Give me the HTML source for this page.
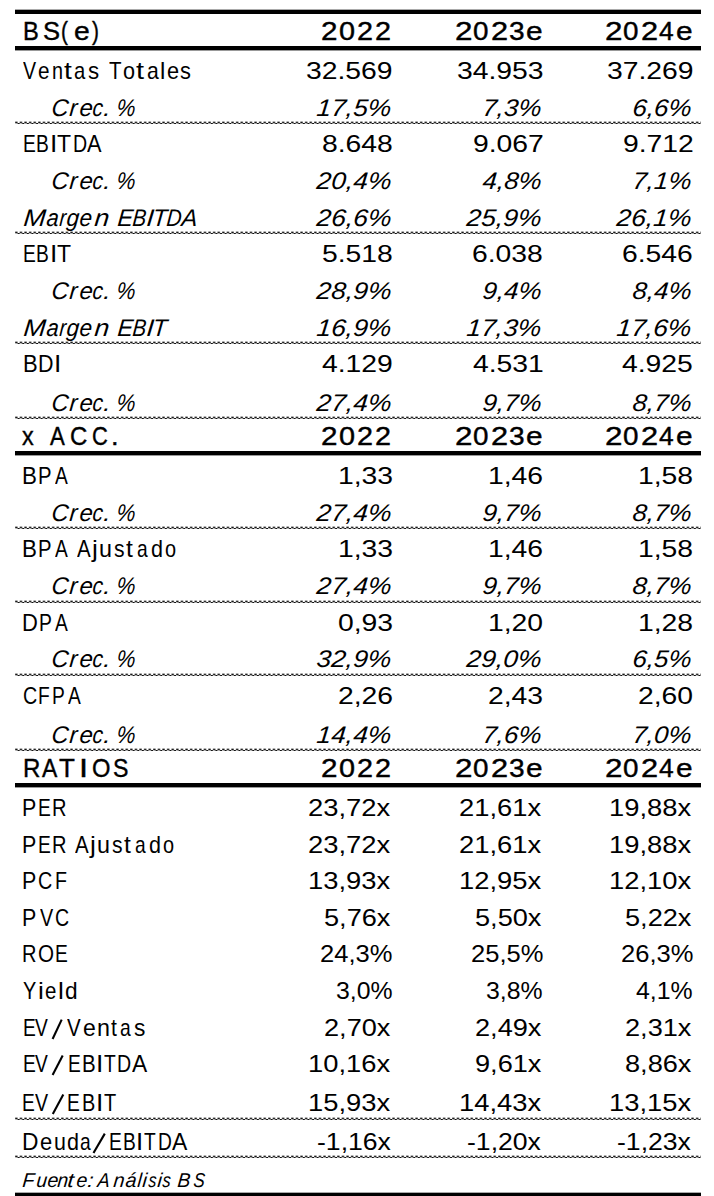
<!DOCTYPE html><html><head><meta charset="utf-8"><style>
html,body{margin:0;padding:0;background:#fff;}
body{width:714px;height:1196px;position:relative;overflow:hidden;font-family:"Liberation Sans",sans-serif;color:#000;font-kerning:none;}
.t{position:absolute;white-space:nowrap;line-height:30px;transform-origin:0 0;}
.l{position:absolute;left:15px;width:686px;}
.thick{height:5px;background:linear-gradient(#000,#000) 0 0/100% 4px no-repeat,#999;}
.thicku{height:5px;background:linear-gradient(#000,#000) 0 1px/100% 4px no-repeat,#aaa;}
</style></head><body>

<svg width="0" height="0" style="position:absolute"><defs><pattern id="dp" width="4.6" height="3" patternUnits="userSpaceOnUse"><rect x="0.2" y="0" width="2.3" height="1" fill="#000" fill-opacity="0.35"/><rect x="0.2" y="1" width="2.3" height="1" fill="#111"/><rect x="2.5" y="2" width="2.3" height="1" fill="#111"/><rect x="0.2" y="2" width="2.3" height="1" fill="#000" fill-opacity="0.3"/></pattern></defs></svg>
<div class="l thicku" style="top:9px"></div>
<div class="l thick" style="top:46px"></div>
<svg class="l" style="top:121px" width="686" height="3"><rect width="686" height="3" fill="url(#dp)"/></svg>
<svg class="l" style="top:231px" width="686" height="3"><rect width="686" height="3" fill="url(#dp)"/></svg>
<svg class="l" style="top:341px" width="686" height="3"><rect width="686" height="3" fill="url(#dp)"/></svg>
<svg class="l" style="top:416px" width="686" height="3"><rect width="686" height="3" fill="url(#dp)"/></svg>
<div class="l thick" style="top:451px"></div>
<svg class="l" style="top:526px" width="686" height="3"><rect width="686" height="3" fill="url(#dp)"/></svg>
<svg class="l" style="top:600px" width="686" height="3"><rect width="686" height="3" fill="url(#dp)"/></svg>
<svg class="l" style="top:673px" width="686" height="3"><rect width="686" height="3" fill="url(#dp)"/></svg>
<svg class="l" style="top:748px" width="686" height="3"><rect width="686" height="3" fill="url(#dp)"/></svg>
<div class="l thick" style="top:783px"></div>
<svg class="l" style="top:1117px" width="686" height="3"><rect width="686" height="3" fill="url(#dp)"/></svg>
<svg class="l" style="top:1155px" width="686" height="3"><rect width="686" height="3" fill="url(#dp)"/></svg>
<div class="l thicku" style="top:1192px"></div>
<div class="t" style="left:22.56px;top:15.99px;font-size:26px;transform:scaleX(0.9105);-webkit-text-stroke:0.40px #000;">B</div>
<div class="t" style="left:42.94px;top:15.99px;font-size:26px;transform:scaleX(0.9821);-webkit-text-stroke:0.40px #000;">S</div>
<div class="t" style="left:60.70px;top:15.99px;font-size:26px;transform:scaleX(0.8000);-webkit-text-stroke:0.40px #000;">(</div>
<div class="t" style="left:73.70px;top:15.99px;font-size:26px;transform:scaleX(1.0901);-webkit-text-stroke:0.40px #000;">e</div>
<div class="t" style="left:91.97px;top:15.99px;font-size:26px;transform:scaleX(0.8000);-webkit-text-stroke:0.40px #000;">)</div>
<div class="t" style="left:320.81px;top:15.99px;font-size:26px;transform:scaleX(1.1397);-webkit-text-stroke:0.40px #000;">2</div>
<div class="t" style="left:339.17px;top:15.99px;font-size:26px;transform:scaleX(1.1103);-webkit-text-stroke:0.40px #000;">0</div>
<div class="t" style="left:357.15px;top:15.99px;font-size:26px;transform:scaleX(1.1060);-webkit-text-stroke:0.40px #000;">2</div>
<div class="t" style="left:375.45px;top:15.99px;font-size:26px;transform:scaleX(1.1060);-webkit-text-stroke:0.40px #000;">2</div>
<div class="t" style="left:454.62px;top:15.99px;font-size:26px;transform:scaleX(1.2073);-webkit-text-stroke:0.40px #000;">2</div>
<div class="t" style="left:472.91px;top:15.99px;font-size:26px;transform:scaleX(1.0701);-webkit-text-stroke:0.40px #000;">0</div>
<div class="t" style="left:490.65px;top:15.99px;font-size:26px;transform:scaleX(1.1820);-webkit-text-stroke:0.40px #000;">2</div>
<div class="t" style="left:508.63px;top:15.99px;font-size:26px;transform:scaleX(1.0789);-webkit-text-stroke:0.40px #000;">3</div>
<div class="t" style="left:525.93px;top:15.99px;font-size:26px;transform:scaleX(1.1475);-webkit-text-stroke:0.40px #000;">e</div>
<div class="t" style="left:604.72px;top:15.99px;font-size:26px;transform:scaleX(1.2073);-webkit-text-stroke:0.40px #000;">2</div>
<div class="t" style="left:623.01px;top:15.99px;font-size:26px;transform:scaleX(1.0701);-webkit-text-stroke:0.40px #000;">0</div>
<div class="t" style="left:640.75px;top:15.99px;font-size:26px;transform:scaleX(1.1820);-webkit-text-stroke:0.40px #000;">2</div>
<div class="t" style="left:659.19px;top:15.99px;font-size:26px;transform:scaleX(1.0151);-webkit-text-stroke:0.40px #000;">4</div>
<div class="t" style="left:676.03px;top:15.99px;font-size:26px;transform:scaleX(1.1475);-webkit-text-stroke:0.40px #000;">e</div>
<div class="t" style="left:22.81px;top:55.68px;font-size:24px;transform:scaleX(0.8166);">V</div>
<div class="t" style="left:38.42px;top:55.68px;font-size:24px;transform:scaleX(0.8613);">e</div>
<div class="t" style="left:51.89px;top:55.68px;font-size:24px;transform:scaleX(0.8239);">n</div>
<div class="t" style="left:64.07px;top:55.68px;font-size:24px;transform:scaleX(1.1748);">t</div>
<div class="t" style="left:74.34px;top:55.68px;font-size:24px;transform:scaleX(0.8436);">a</div>
<div class="t" style="left:88.48px;top:55.68px;font-size:24px;transform:scaleX(0.9269);">s</div>
<div class="t" style="left:109.14px;top:55.68px;font-size:24px;transform:scaleX(0.8548);">T</div>
<div class="t" style="left:122.69px;top:55.68px;font-size:24px;transform:scaleX(0.9001);">o</div>
<div class="t" style="left:136.46px;top:55.68px;font-size:24px;transform:scaleX(1.2074);">t</div>
<div class="t" style="left:146.50px;top:55.68px;font-size:24px;transform:scaleX(0.8842);">a</div>
<div class="t" style="left:159.99px;top:55.68px;font-size:24px;transform:scaleX(0.9956);">l</div>
<div class="t" style="left:166.78px;top:55.68px;font-size:24px;transform:scaleX(0.9057);">e</div>
<div class="t" style="left:180.39px;top:55.68px;font-size:24px;transform:scaleX(0.9078);">s</div>
<div class="t" style="left:306.22px;top:55.68px;font-size:24px;transform:scaleX(1.1800);">32.569</div>
<div class="t" style="left:456.63px;top:55.68px;font-size:24px;transform:scaleX(1.1800);">34.953</div>
<div class="t" style="left:606.72px;top:55.68px;font-size:24px;transform:scaleX(1.1800);">37.269</div>
<div class="t" style="left:50.81px;top:92.68px;font-size:24px;font-style:italic;transform-origin:0 23.32px;transform:skewX(-5.0deg) scaleX(0.9791);">C</div>
<div class="t" style="left:69.22px;top:92.68px;font-size:24px;font-style:italic;transform-origin:0 23.32px;transform:skewX(-5.0deg) scaleX(0.9640);">r</div>
<div class="t" style="left:78.60px;top:92.68px;font-size:24px;font-style:italic;transform-origin:0 23.32px;transform:skewX(-5.0deg) scaleX(0.9958);">e</div>
<div class="t" style="left:92.03px;top:92.68px;font-size:24px;font-style:italic;transform-origin:0 23.32px;transform:skewX(-5.0deg) scaleX(0.8680);">c</div>
<div class="t" style="left:102.59px;top:92.68px;font-size:24px;font-style:italic;transform-origin:0 23.32px;transform:skewX(-5.0deg) scaleX(1.1000);">.</div>
<div class="t" style="left:116.39px;top:92.68px;font-size:24px;font-style:italic;transform-origin:0 23.32px;transform:skewX(-5.0deg) scaleX(0.8872);">%</div>
<div class="t" style="left:315.67px;top:92.68px;font-size:24px;font-style:italic;transform-origin:0 23.32px;transform:skewX(-5.0deg) scaleX(1.0987);">17,5%</div>
<div class="t" style="left:482.14px;top:92.68px;font-size:24px;font-style:italic;transform-origin:0 23.32px;transform:skewX(-5.0deg) scaleX(1.0745);">7,3%</div>
<div class="t" style="left:632.01px;top:92.68px;font-size:24px;font-style:italic;transform-origin:0 23.32px;transform:skewX(-5.0deg) scaleX(1.0768);">6,6%</div>
<div class="t" style="left:22.57px;top:128.68px;font-size:24px;transform:scaleX(0.8000);">E</div>
<div class="t" style="left:35.82px;top:128.68px;font-size:24px;transform:scaleX(0.8000);">B</div>
<div class="t" style="left:50.38px;top:128.68px;font-size:24px;transform:scaleX(1.1000);">I</div>
<div class="t" style="left:57.18px;top:128.68px;font-size:24px;transform:scaleX(0.9580);">T</div>
<div class="t" style="left:72.89px;top:128.68px;font-size:24px;transform:scaleX(0.8160);">D</div>
<div class="t" style="left:87.06px;top:128.68px;font-size:24px;transform:scaleX(0.9049);">A</div>
<div class="t" style="left:321.86px;top:128.68px;font-size:24px;transform:scaleX(1.1800);">8.648</div>
<div class="t" style="left:472.56px;top:128.68px;font-size:24px;transform:scaleX(1.1800);">9.067</div>
<div class="t" style="left:622.56px;top:128.68px;font-size:24px;transform:scaleX(1.1800);">9.712</div>
<div class="t" style="left:50.81px;top:165.68px;font-size:24px;font-style:italic;transform-origin:0 23.32px;transform:skewX(-5.0deg) scaleX(0.9791);">C</div>
<div class="t" style="left:69.22px;top:165.68px;font-size:24px;font-style:italic;transform-origin:0 23.32px;transform:skewX(-5.0deg) scaleX(0.9640);">r</div>
<div class="t" style="left:78.60px;top:165.68px;font-size:24px;font-style:italic;transform-origin:0 23.32px;transform:skewX(-5.0deg) scaleX(0.9958);">e</div>
<div class="t" style="left:92.03px;top:165.68px;font-size:24px;font-style:italic;transform-origin:0 23.32px;transform:skewX(-5.0deg) scaleX(0.8680);">c</div>
<div class="t" style="left:102.59px;top:165.68px;font-size:24px;font-style:italic;transform-origin:0 23.32px;transform:skewX(-5.0deg) scaleX(1.1000);">.</div>
<div class="t" style="left:116.39px;top:165.68px;font-size:24px;font-style:italic;transform-origin:0 23.32px;transform:skewX(-5.0deg) scaleX(0.8872);">%</div>
<div class="t" style="left:315.61px;top:165.68px;font-size:24px;font-style:italic;transform-origin:0 23.32px;transform:skewX(-5.0deg) scaleX(1.0996);">20,4%</div>
<div class="t" style="left:481.89px;top:165.68px;font-size:24px;font-style:italic;transform-origin:0 23.32px;transform:skewX(-5.0deg) scaleX(1.0791);">4,8%</div>
<div class="t" style="left:632.14px;top:165.68px;font-size:24px;font-style:italic;transform-origin:0 23.32px;transform:skewX(-5.0deg) scaleX(1.0745);">7,1%</div>
<div class="t" style="left:23.29px;top:202.68px;font-size:24px;font-style:italic;transform-origin:0 23.32px;transform:skewX(-5.0deg) scaleX(1.1115);">M</div>
<div class="t" style="left:46.02px;top:202.68px;font-size:24px;font-style:italic;transform-origin:0 23.32px;transform:skewX(-5.0deg) scaleX(0.9092);">a</div>
<div class="t" style="left:59.13px;top:202.68px;font-size:24px;font-style:italic;transform-origin:0 23.32px;transform:skewX(-5.0deg) scaleX(0.8000);">r</div>
<div class="t" style="left:66.06px;top:202.68px;font-size:24px;font-style:italic;transform-origin:0 23.32px;transform:skewX(-5.0deg) scaleX(0.9397);">g</div>
<div class="t" style="left:79.35px;top:202.68px;font-size:24px;font-style:italic;transform-origin:0 23.32px;transform:skewX(-5.0deg) scaleX(0.9357);">e</div>
<div class="t" style="left:93.67px;top:202.68px;font-size:24px;font-style:italic;transform-origin:0 23.32px;transform:skewX(-5.0deg) scaleX(1.1046);">n</div>
<div class="t" style="left:116.59px;top:202.68px;font-size:24px;font-style:italic;transform-origin:0 23.32px;transform:skewX(-5.0deg) scaleX(0.9747);">E</div>
<div class="t" style="left:132.08px;top:202.68px;font-size:24px;font-style:italic;transform-origin:0 23.32px;transform:skewX(-5.0deg) scaleX(0.8513);">B</div>
<div class="t" style="left:146.37px;top:202.68px;font-size:24px;font-style:italic;transform-origin:0 23.32px;transform:skewX(-5.0deg) scaleX(1.1000);">I</div>
<div class="t" style="left:151.59px;top:202.68px;font-size:24px;font-style:italic;transform-origin:0 23.32px;transform:skewX(-5.0deg) scaleX(0.9841);">T</div>
<div class="t" style="left:165.67px;top:202.68px;font-size:24px;font-style:italic;transform-origin:0 23.32px;transform:skewX(-5.0deg) scaleX(0.8660);">D</div>
<div class="t" style="left:180.78px;top:202.68px;font-size:24px;font-style:italic;transform-origin:0 23.32px;transform:skewX(-5.0deg) scaleX(0.9936);">A</div>
<div class="t" style="left:315.61px;top:202.68px;font-size:24px;font-style:italic;transform-origin:0 23.32px;transform:skewX(-5.0deg) scaleX(1.0996);">26,6%</div>
<div class="t" style="left:466.11px;top:202.68px;font-size:24px;font-style:italic;transform-origin:0 23.32px;transform:skewX(-5.0deg) scaleX(1.0996);">25,9%</div>
<div class="t" style="left:616.11px;top:202.68px;font-size:24px;font-style:italic;transform-origin:0 23.32px;transform:skewX(-5.0deg) scaleX(1.0996);">26,1%</div>
<div class="t" style="left:22.57px;top:238.68px;font-size:24px;transform:scaleX(0.8000);">E</div>
<div class="t" style="left:35.82px;top:238.68px;font-size:24px;transform:scaleX(0.8000);">B</div>
<div class="t" style="left:50.38px;top:238.68px;font-size:24px;transform:scaleX(1.1000);">I</div>
<div class="t" style="left:57.18px;top:238.68px;font-size:24px;transform:scaleX(0.9580);">T</div>
<div class="t" style="left:321.86px;top:238.68px;font-size:24px;transform:scaleX(1.1800);">5.518</div>
<div class="t" style="left:472.36px;top:238.68px;font-size:24px;transform:scaleX(1.1800);">6.038</div>
<div class="t" style="left:622.38px;top:238.68px;font-size:24px;transform:scaleX(1.1800);">6.546</div>
<div class="t" style="left:50.81px;top:275.68px;font-size:24px;font-style:italic;transform-origin:0 23.32px;transform:skewX(-5.0deg) scaleX(0.9791);">C</div>
<div class="t" style="left:69.22px;top:275.68px;font-size:24px;font-style:italic;transform-origin:0 23.32px;transform:skewX(-5.0deg) scaleX(0.9640);">r</div>
<div class="t" style="left:78.60px;top:275.68px;font-size:24px;font-style:italic;transform-origin:0 23.32px;transform:skewX(-5.0deg) scaleX(0.9958);">e</div>
<div class="t" style="left:92.03px;top:275.68px;font-size:24px;font-style:italic;transform-origin:0 23.32px;transform:skewX(-5.0deg) scaleX(0.8680);">c</div>
<div class="t" style="left:102.59px;top:275.68px;font-size:24px;font-style:italic;transform-origin:0 23.32px;transform:skewX(-5.0deg) scaleX(1.1000);">.</div>
<div class="t" style="left:116.39px;top:275.68px;font-size:24px;font-style:italic;transform-origin:0 23.32px;transform:skewX(-5.0deg) scaleX(0.8872);">%</div>
<div class="t" style="left:315.61px;top:275.68px;font-size:24px;font-style:italic;transform-origin:0 23.32px;transform:skewX(-5.0deg) scaleX(1.0996);">28,9%</div>
<div class="t" style="left:481.96px;top:275.68px;font-size:24px;font-style:italic;transform-origin:0 23.32px;transform:skewX(-5.0deg) scaleX(1.0778);">9,4%</div>
<div class="t" style="left:631.94px;top:275.68px;font-size:24px;font-style:italic;transform-origin:0 23.32px;transform:skewX(-5.0deg) scaleX(1.0782);">8,4%</div>
<div class="t" style="left:23.29px;top:312.68px;font-size:24px;font-style:italic;transform-origin:0 23.32px;transform:skewX(-5.0deg) scaleX(1.1115);">M</div>
<div class="t" style="left:46.02px;top:312.68px;font-size:24px;font-style:italic;transform-origin:0 23.32px;transform:skewX(-5.0deg) scaleX(0.9092);">a</div>
<div class="t" style="left:59.13px;top:312.68px;font-size:24px;font-style:italic;transform-origin:0 23.32px;transform:skewX(-5.0deg) scaleX(0.8000);">r</div>
<div class="t" style="left:66.06px;top:312.68px;font-size:24px;font-style:italic;transform-origin:0 23.32px;transform:skewX(-5.0deg) scaleX(0.9397);">g</div>
<div class="t" style="left:79.35px;top:312.68px;font-size:24px;font-style:italic;transform-origin:0 23.32px;transform:skewX(-5.0deg) scaleX(0.9357);">e</div>
<div class="t" style="left:93.67px;top:312.68px;font-size:24px;font-style:italic;transform-origin:0 23.32px;transform:skewX(-5.0deg) scaleX(1.1046);">n</div>
<div class="t" style="left:116.59px;top:312.68px;font-size:24px;font-style:italic;transform-origin:0 23.32px;transform:skewX(-5.0deg) scaleX(0.9747);">E</div>
<div class="t" style="left:132.08px;top:312.68px;font-size:24px;font-style:italic;transform-origin:0 23.32px;transform:skewX(-5.0deg) scaleX(0.8513);">B</div>
<div class="t" style="left:146.37px;top:312.68px;font-size:24px;font-style:italic;transform-origin:0 23.32px;transform:skewX(-5.0deg) scaleX(1.1000);">I</div>
<div class="t" style="left:151.59px;top:312.68px;font-size:24px;font-style:italic;transform-origin:0 23.32px;transform:skewX(-5.0deg) scaleX(0.9841);">T</div>
<div class="t" style="left:315.67px;top:312.68px;font-size:24px;font-style:italic;transform-origin:0 23.32px;transform:skewX(-5.0deg) scaleX(1.0987);">16,9%</div>
<div class="t" style="left:466.17px;top:312.68px;font-size:24px;font-style:italic;transform-origin:0 23.32px;transform:skewX(-5.0deg) scaleX(1.0987);">17,3%</div>
<div class="t" style="left:616.17px;top:312.68px;font-size:24px;font-style:italic;transform-origin:0 23.32px;transform:skewX(-5.0deg) scaleX(1.0987);">17,6%</div>
<div class="t" style="left:22.60px;top:348.68px;font-size:24px;transform:scaleX(0.9160);">B</div>
<div class="t" style="left:37.84px;top:348.68px;font-size:24px;transform:scaleX(0.8934);">D</div>
<div class="t" style="left:53.78px;top:348.68px;font-size:24px;transform:scaleX(1.1000);">I</div>
<div class="t" style="left:321.97px;top:348.68px;font-size:24px;transform:scaleX(1.1800);">4.129</div>
<div class="t" style="left:472.51px;top:348.68px;font-size:24px;transform:scaleX(1.1800);">4.531</div>
<div class="t" style="left:622.32px;top:348.68px;font-size:24px;transform:scaleX(1.1800);">4.925</div>
<div class="t" style="left:50.81px;top:387.68px;font-size:24px;font-style:italic;transform-origin:0 23.32px;transform:skewX(-5.0deg) scaleX(0.9791);">C</div>
<div class="t" style="left:69.22px;top:387.68px;font-size:24px;font-style:italic;transform-origin:0 23.32px;transform:skewX(-5.0deg) scaleX(0.9640);">r</div>
<div class="t" style="left:78.60px;top:387.68px;font-size:24px;font-style:italic;transform-origin:0 23.32px;transform:skewX(-5.0deg) scaleX(0.9958);">e</div>
<div class="t" style="left:92.03px;top:387.68px;font-size:24px;font-style:italic;transform-origin:0 23.32px;transform:skewX(-5.0deg) scaleX(0.8680);">c</div>
<div class="t" style="left:102.59px;top:387.68px;font-size:24px;font-style:italic;transform-origin:0 23.32px;transform:skewX(-5.0deg) scaleX(1.1000);">.</div>
<div class="t" style="left:116.39px;top:387.68px;font-size:24px;font-style:italic;transform-origin:0 23.32px;transform:skewX(-5.0deg) scaleX(0.8872);">%</div>
<div class="t" style="left:315.61px;top:387.68px;font-size:24px;font-style:italic;transform-origin:0 23.32px;transform:skewX(-5.0deg) scaleX(1.0996);">27,4%</div>
<div class="t" style="left:481.96px;top:387.68px;font-size:24px;font-style:italic;transform-origin:0 23.32px;transform:skewX(-5.0deg) scaleX(1.0778);">9,7%</div>
<div class="t" style="left:631.94px;top:387.68px;font-size:24px;font-style:italic;transform-origin:0 23.32px;transform:skewX(-5.0deg) scaleX(1.0782);">8,7%</div>
<div class="t" style="left:22.34px;top:420.99px;font-size:26px;transform:scaleX(0.9011);-webkit-text-stroke:0.40px #000;">x</div>
<div class="t" style="left:49.96px;top:420.99px;font-size:26px;transform:scaleX(0.8527);-webkit-text-stroke:0.40px #000;">A</div>
<div class="t" style="left:70.38px;top:420.99px;font-size:26px;transform:scaleX(0.9231);-webkit-text-stroke:0.40px #000;">C</div>
<div class="t" style="left:91.99px;top:420.99px;font-size:26px;transform:scaleX(0.8442);-webkit-text-stroke:0.40px #000;">C</div>
<div class="t" style="left:111.21px;top:420.99px;font-size:26px;transform:scaleX(1.0503);-webkit-text-stroke:0.40px #000;">.</div>
<div class="t" style="left:320.81px;top:420.99px;font-size:26px;transform:scaleX(1.1397);-webkit-text-stroke:0.40px #000;">2</div>
<div class="t" style="left:339.17px;top:420.99px;font-size:26px;transform:scaleX(1.1103);-webkit-text-stroke:0.40px #000;">0</div>
<div class="t" style="left:357.15px;top:420.99px;font-size:26px;transform:scaleX(1.1060);-webkit-text-stroke:0.40px #000;">2</div>
<div class="t" style="left:375.45px;top:420.99px;font-size:26px;transform:scaleX(1.1060);-webkit-text-stroke:0.40px #000;">2</div>
<div class="t" style="left:454.62px;top:420.99px;font-size:26px;transform:scaleX(1.2073);-webkit-text-stroke:0.40px #000;">2</div>
<div class="t" style="left:472.91px;top:420.99px;font-size:26px;transform:scaleX(1.0701);-webkit-text-stroke:0.40px #000;">0</div>
<div class="t" style="left:490.65px;top:420.99px;font-size:26px;transform:scaleX(1.1820);-webkit-text-stroke:0.40px #000;">2</div>
<div class="t" style="left:508.63px;top:420.99px;font-size:26px;transform:scaleX(1.0789);-webkit-text-stroke:0.40px #000;">3</div>
<div class="t" style="left:525.93px;top:420.99px;font-size:26px;transform:scaleX(1.1475);-webkit-text-stroke:0.40px #000;">e</div>
<div class="t" style="left:604.72px;top:420.99px;font-size:26px;transform:scaleX(1.2073);-webkit-text-stroke:0.40px #000;">2</div>
<div class="t" style="left:623.01px;top:420.99px;font-size:26px;transform:scaleX(1.0701);-webkit-text-stroke:0.40px #000;">0</div>
<div class="t" style="left:640.75px;top:420.99px;font-size:26px;transform:scaleX(1.1820);-webkit-text-stroke:0.40px #000;">2</div>
<div class="t" style="left:659.19px;top:420.99px;font-size:26px;transform:scaleX(1.0151);-webkit-text-stroke:0.40px #000;">4</div>
<div class="t" style="left:676.03px;top:420.99px;font-size:26px;transform:scaleX(1.1475);-webkit-text-stroke:0.40px #000;">e</div>
<div class="t" style="left:22.27px;top:460.68px;font-size:24px;transform:scaleX(0.9316);">B</div>
<div class="t" style="left:38.14px;top:460.68px;font-size:24px;transform:scaleX(0.8455);">P</div>
<div class="t" style="left:54.75px;top:460.68px;font-size:24px;transform:scaleX(0.8000);">A</div>
<div class="t" style="left:337.63px;top:460.68px;font-size:24px;transform:scaleX(1.1800);">1,33</div>
<div class="t" style="left:488.13px;top:460.68px;font-size:24px;transform:scaleX(1.1800);">1,46</div>
<div class="t" style="left:638.11px;top:460.68px;font-size:24px;transform:scaleX(1.1800);">1,58</div>
<div class="t" style="left:50.81px;top:497.68px;font-size:24px;font-style:italic;transform-origin:0 23.32px;transform:skewX(-5.0deg) scaleX(0.9791);">C</div>
<div class="t" style="left:69.22px;top:497.68px;font-size:24px;font-style:italic;transform-origin:0 23.32px;transform:skewX(-5.0deg) scaleX(0.9640);">r</div>
<div class="t" style="left:78.60px;top:497.68px;font-size:24px;font-style:italic;transform-origin:0 23.32px;transform:skewX(-5.0deg) scaleX(0.9958);">e</div>
<div class="t" style="left:92.03px;top:497.68px;font-size:24px;font-style:italic;transform-origin:0 23.32px;transform:skewX(-5.0deg) scaleX(0.8680);">c</div>
<div class="t" style="left:102.59px;top:497.68px;font-size:24px;font-style:italic;transform-origin:0 23.32px;transform:skewX(-5.0deg) scaleX(1.1000);">.</div>
<div class="t" style="left:116.39px;top:497.68px;font-size:24px;font-style:italic;transform-origin:0 23.32px;transform:skewX(-5.0deg) scaleX(0.8872);">%</div>
<div class="t" style="left:315.61px;top:497.68px;font-size:24px;font-style:italic;transform-origin:0 23.32px;transform:skewX(-5.0deg) scaleX(1.0996);">27,4%</div>
<div class="t" style="left:481.96px;top:497.68px;font-size:24px;font-style:italic;transform-origin:0 23.32px;transform:skewX(-5.0deg) scaleX(1.0778);">9,7%</div>
<div class="t" style="left:631.94px;top:497.68px;font-size:24px;font-style:italic;transform-origin:0 23.32px;transform:skewX(-5.0deg) scaleX(1.0782);">8,7%</div>
<div class="t" style="left:22.27px;top:533.68px;font-size:24px;transform:scaleX(0.9316);">B</div>
<div class="t" style="left:38.14px;top:533.68px;font-size:24px;transform:scaleX(0.8455);">P</div>
<div class="t" style="left:54.75px;top:533.68px;font-size:24px;transform:scaleX(0.8000);">A</div>
<div class="t" style="left:77.16px;top:533.68px;font-size:24px;transform:scaleX(0.8546);">A</div>
<div class="t" style="left:92.48px;top:533.68px;font-size:24px;transform:scaleX(1.1000);">j</div>
<div class="t" style="left:98.99px;top:533.68px;font-size:24px;transform:scaleX(0.9710);">u</div>
<div class="t" style="left:113.71px;top:533.68px;font-size:24px;transform:scaleX(0.8791);">s</div>
<div class="t" style="left:126.33px;top:533.68px;font-size:24px;transform:scaleX(1.0279);">t</div>
<div class="t" style="left:136.75px;top:533.68px;font-size:24px;transform:scaleX(0.8000);">a</div>
<div class="t" style="left:150.89px;top:533.68px;font-size:24px;transform:scaleX(0.8987);">d</div>
<div class="t" style="left:165.26px;top:533.68px;font-size:24px;transform:scaleX(0.8295);">o</div>
<div class="t" style="left:337.63px;top:533.68px;font-size:24px;transform:scaleX(1.1800);">1,33</div>
<div class="t" style="left:488.13px;top:533.68px;font-size:24px;transform:scaleX(1.1800);">1,46</div>
<div class="t" style="left:638.11px;top:533.68px;font-size:24px;transform:scaleX(1.1800);">1,58</div>
<div class="t" style="left:50.81px;top:570.68px;font-size:24px;font-style:italic;transform-origin:0 23.32px;transform:skewX(-5.0deg) scaleX(0.9791);">C</div>
<div class="t" style="left:69.22px;top:570.68px;font-size:24px;font-style:italic;transform-origin:0 23.32px;transform:skewX(-5.0deg) scaleX(0.9640);">r</div>
<div class="t" style="left:78.60px;top:570.68px;font-size:24px;font-style:italic;transform-origin:0 23.32px;transform:skewX(-5.0deg) scaleX(0.9958);">e</div>
<div class="t" style="left:92.03px;top:570.68px;font-size:24px;font-style:italic;transform-origin:0 23.32px;transform:skewX(-5.0deg) scaleX(0.8680);">c</div>
<div class="t" style="left:102.59px;top:570.68px;font-size:24px;font-style:italic;transform-origin:0 23.32px;transform:skewX(-5.0deg) scaleX(1.1000);">.</div>
<div class="t" style="left:116.39px;top:570.68px;font-size:24px;font-style:italic;transform-origin:0 23.32px;transform:skewX(-5.0deg) scaleX(0.8872);">%</div>
<div class="t" style="left:315.61px;top:570.68px;font-size:24px;font-style:italic;transform-origin:0 23.32px;transform:skewX(-5.0deg) scaleX(1.0996);">27,4%</div>
<div class="t" style="left:481.96px;top:570.68px;font-size:24px;font-style:italic;transform-origin:0 23.32px;transform:skewX(-5.0deg) scaleX(1.0778);">9,7%</div>
<div class="t" style="left:631.94px;top:570.68px;font-size:24px;font-style:italic;transform-origin:0 23.32px;transform:skewX(-5.0deg) scaleX(1.0782);">8,7%</div>
<div class="t" style="left:22.30px;top:607.68px;font-size:24px;transform:scaleX(0.9145);">D</div>
<div class="t" style="left:38.71px;top:607.68px;font-size:24px;transform:scaleX(0.8064);">P</div>
<div class="t" style="left:54.75px;top:607.68px;font-size:24px;transform:scaleX(0.8000);">A</div>
<div class="t" style="left:337.63px;top:607.68px;font-size:24px;transform:scaleX(1.1800);">0,93</div>
<div class="t" style="left:487.99px;top:607.68px;font-size:24px;transform:scaleX(1.1800);">1,20</div>
<div class="t" style="left:638.11px;top:607.68px;font-size:24px;transform:scaleX(1.1800);">1,28</div>
<div class="t" style="left:50.81px;top:643.68px;font-size:24px;font-style:italic;transform-origin:0 23.32px;transform:skewX(-5.0deg) scaleX(0.9791);">C</div>
<div class="t" style="left:69.22px;top:643.68px;font-size:24px;font-style:italic;transform-origin:0 23.32px;transform:skewX(-5.0deg) scaleX(0.9640);">r</div>
<div class="t" style="left:78.60px;top:643.68px;font-size:24px;font-style:italic;transform-origin:0 23.32px;transform:skewX(-5.0deg) scaleX(0.9958);">e</div>
<div class="t" style="left:92.03px;top:643.68px;font-size:24px;font-style:italic;transform-origin:0 23.32px;transform:skewX(-5.0deg) scaleX(0.8680);">c</div>
<div class="t" style="left:102.59px;top:643.68px;font-size:24px;font-style:italic;transform-origin:0 23.32px;transform:skewX(-5.0deg) scaleX(1.1000);">.</div>
<div class="t" style="left:116.39px;top:643.68px;font-size:24px;font-style:italic;transform-origin:0 23.32px;transform:skewX(-5.0deg) scaleX(0.8872);">%</div>
<div class="t" style="left:315.67px;top:643.68px;font-size:24px;font-style:italic;transform-origin:0 23.32px;transform:skewX(-5.0deg) scaleX(1.0987);">32,9%</div>
<div class="t" style="left:466.11px;top:643.68px;font-size:24px;font-style:italic;transform-origin:0 23.32px;transform:skewX(-5.0deg) scaleX(1.0996);">29,0%</div>
<div class="t" style="left:632.01px;top:643.68px;font-size:24px;font-style:italic;transform-origin:0 23.32px;transform:skewX(-5.0deg) scaleX(1.0768);">6,5%</div>
<div class="t" style="left:22.50px;top:680.68px;font-size:24px;transform:scaleX(0.8224);">C</div>
<div class="t" style="left:38.33px;top:680.68px;font-size:24px;transform:scaleX(0.8000);">F</div>
<div class="t" style="left:51.92px;top:680.68px;font-size:24px;transform:scaleX(0.8000);">P</div>
<div class="t" style="left:68.20px;top:680.68px;font-size:24px;transform:scaleX(0.8000);">A</div>
<div class="t" style="left:337.63px;top:680.68px;font-size:24px;transform:scaleX(1.1800);">2,26</div>
<div class="t" style="left:488.13px;top:680.68px;font-size:24px;transform:scaleX(1.1800);">2,43</div>
<div class="t" style="left:637.99px;top:680.68px;font-size:24px;transform:scaleX(1.1800);">2,60</div>
<div class="t" style="left:50.81px;top:719.68px;font-size:24px;font-style:italic;transform-origin:0 23.32px;transform:skewX(-5.0deg) scaleX(0.9791);">C</div>
<div class="t" style="left:69.22px;top:719.68px;font-size:24px;font-style:italic;transform-origin:0 23.32px;transform:skewX(-5.0deg) scaleX(0.9640);">r</div>
<div class="t" style="left:78.60px;top:719.68px;font-size:24px;font-style:italic;transform-origin:0 23.32px;transform:skewX(-5.0deg) scaleX(0.9958);">e</div>
<div class="t" style="left:92.03px;top:719.68px;font-size:24px;font-style:italic;transform-origin:0 23.32px;transform:skewX(-5.0deg) scaleX(0.8680);">c</div>
<div class="t" style="left:102.59px;top:719.68px;font-size:24px;font-style:italic;transform-origin:0 23.32px;transform:skewX(-5.0deg) scaleX(1.1000);">.</div>
<div class="t" style="left:116.39px;top:719.68px;font-size:24px;font-style:italic;transform-origin:0 23.32px;transform:skewX(-5.0deg) scaleX(0.8872);">%</div>
<div class="t" style="left:315.67px;top:719.68px;font-size:24px;font-style:italic;transform-origin:0 23.32px;transform:skewX(-5.0deg) scaleX(1.0987);">14,4%</div>
<div class="t" style="left:482.14px;top:719.68px;font-size:24px;font-style:italic;transform-origin:0 23.32px;transform:skewX(-5.0deg) scaleX(1.0745);">7,6%</div>
<div class="t" style="left:632.14px;top:719.68px;font-size:24px;font-style:italic;transform-origin:0 23.32px;transform:skewX(-5.0deg) scaleX(1.0745);">7,0%</div>
<div class="t" style="left:22.52px;top:752.99px;font-size:26px;transform:scaleX(0.9263);-webkit-text-stroke:0.40px #000;">R</div>
<div class="t" style="left:42.16px;top:752.99px;font-size:26px;transform:scaleX(0.8817);-webkit-text-stroke:0.40px #000;">A</div>
<div class="t" style="left:58.82px;top:752.99px;font-size:26px;transform:scaleX(0.9999);-webkit-text-stroke:0.40px #000;">T</div>
<div class="t" style="left:79.39px;top:752.99px;font-size:26px;transform:scaleX(1.2500);-webkit-text-stroke:0.40px #000;">I</div>
<div class="t" style="left:91.98px;top:752.99px;font-size:26px;transform:scaleX(0.9128);-webkit-text-stroke:0.40px #000;">O</div>
<div class="t" style="left:112.65px;top:752.99px;font-size:26px;transform:scaleX(0.8886);-webkit-text-stroke:0.40px #000;">S</div>
<div class="t" style="left:320.81px;top:752.99px;font-size:26px;transform:scaleX(1.1397);-webkit-text-stroke:0.40px #000;">2</div>
<div class="t" style="left:339.17px;top:752.99px;font-size:26px;transform:scaleX(1.1103);-webkit-text-stroke:0.40px #000;">0</div>
<div class="t" style="left:357.15px;top:752.99px;font-size:26px;transform:scaleX(1.1060);-webkit-text-stroke:0.40px #000;">2</div>
<div class="t" style="left:375.45px;top:752.99px;font-size:26px;transform:scaleX(1.1060);-webkit-text-stroke:0.40px #000;">2</div>
<div class="t" style="left:454.62px;top:752.99px;font-size:26px;transform:scaleX(1.2073);-webkit-text-stroke:0.40px #000;">2</div>
<div class="t" style="left:472.91px;top:752.99px;font-size:26px;transform:scaleX(1.0701);-webkit-text-stroke:0.40px #000;">0</div>
<div class="t" style="left:490.65px;top:752.99px;font-size:26px;transform:scaleX(1.1820);-webkit-text-stroke:0.40px #000;">2</div>
<div class="t" style="left:508.63px;top:752.99px;font-size:26px;transform:scaleX(1.0789);-webkit-text-stroke:0.40px #000;">3</div>
<div class="t" style="left:525.93px;top:752.99px;font-size:26px;transform:scaleX(1.1475);-webkit-text-stroke:0.40px #000;">e</div>
<div class="t" style="left:604.72px;top:752.99px;font-size:26px;transform:scaleX(1.2073);-webkit-text-stroke:0.40px #000;">2</div>
<div class="t" style="left:623.01px;top:752.99px;font-size:26px;transform:scaleX(1.0701);-webkit-text-stroke:0.40px #000;">0</div>
<div class="t" style="left:640.75px;top:752.99px;font-size:26px;transform:scaleX(1.1820);-webkit-text-stroke:0.40px #000;">2</div>
<div class="t" style="left:659.19px;top:752.99px;font-size:26px;transform:scaleX(1.0151);-webkit-text-stroke:0.40px #000;">4</div>
<div class="t" style="left:676.03px;top:752.99px;font-size:26px;transform:scaleX(1.1475);-webkit-text-stroke:0.40px #000;">e</div>
<div class="t" style="left:21.74px;top:792.68px;font-size:24px;transform:scaleX(0.8925);">P</div>
<div class="t" style="left:38.37px;top:792.68px;font-size:24px;transform:scaleX(0.8000);">E</div>
<div class="t" style="left:52.16px;top:792.68px;font-size:24px;transform:scaleX(0.8351);">R</div>
<div class="t" style="left:308.32px;top:792.68px;font-size:24px;transform:scaleX(1.1403);">23,72x</div>
<div class="t" style="left:458.82px;top:792.68px;font-size:24px;transform:scaleX(1.1403);">21,61x</div>
<div class="t" style="left:608.85px;top:792.68px;font-size:24px;transform:scaleX(1.1400);">19,88x</div>
<div class="t" style="left:21.74px;top:829.68px;font-size:24px;transform:scaleX(0.8925);">P</div>
<div class="t" style="left:38.37px;top:829.68px;font-size:24px;transform:scaleX(0.8000);">E</div>
<div class="t" style="left:52.16px;top:829.68px;font-size:24px;transform:scaleX(0.8351);">R</div>
<div class="t" style="left:75.06px;top:829.68px;font-size:24px;transform:scaleX(0.8546);">A</div>
<div class="t" style="left:90.38px;top:829.68px;font-size:24px;transform:scaleX(1.1000);">j</div>
<div class="t" style="left:96.89px;top:829.68px;font-size:24px;transform:scaleX(0.9710);">u</div>
<div class="t" style="left:111.61px;top:829.68px;font-size:24px;transform:scaleX(0.8791);">s</div>
<div class="t" style="left:124.23px;top:829.68px;font-size:24px;transform:scaleX(1.0279);">t</div>
<div class="t" style="left:134.65px;top:829.68px;font-size:24px;transform:scaleX(0.8000);">a</div>
<div class="t" style="left:148.79px;top:829.68px;font-size:24px;transform:scaleX(0.8987);">d</div>
<div class="t" style="left:163.16px;top:829.68px;font-size:24px;transform:scaleX(0.8295);">o</div>
<div class="t" style="left:308.32px;top:829.68px;font-size:24px;transform:scaleX(1.1403);">23,72x</div>
<div class="t" style="left:458.82px;top:829.68px;font-size:24px;transform:scaleX(1.1403);">21,61x</div>
<div class="t" style="left:608.85px;top:829.68px;font-size:24px;transform:scaleX(1.1400);">19,88x</div>
<div class="t" style="left:21.74px;top:865.68px;font-size:24px;transform:scaleX(0.8925);">P</div>
<div class="t" style="left:38.20px;top:865.68px;font-size:24px;transform:scaleX(0.8224);">C</div>
<div class="t" style="left:54.99px;top:865.68px;font-size:24px;transform:scaleX(0.8184);">F</div>
<div class="t" style="left:308.35px;top:865.68px;font-size:24px;transform:scaleX(1.1400);">13,93x</div>
<div class="t" style="left:458.85px;top:865.68px;font-size:24px;transform:scaleX(1.1400);">12,95x</div>
<div class="t" style="left:608.85px;top:865.68px;font-size:24px;transform:scaleX(1.1400);">12,10x</div>
<div class="t" style="left:21.74px;top:902.68px;font-size:24px;transform:scaleX(0.8925);">P</div>
<div class="t" style="left:39.71px;top:902.68px;font-size:24px;transform:scaleX(0.8229);">V</div>
<div class="t" style="left:54.51px;top:902.68px;font-size:24px;transform:scaleX(0.8158);">C</div>
<div class="t" style="left:324.07px;top:902.68px;font-size:24px;transform:scaleX(1.1313);">5,76x</div>
<div class="t" style="left:474.57px;top:902.68px;font-size:24px;transform:scaleX(1.1313);">5,50x</div>
<div class="t" style="left:624.57px;top:902.68px;font-size:24px;transform:scaleX(1.1313);">5,22x</div>
<div class="t" style="left:22.46px;top:938.68px;font-size:24px;transform:scaleX(0.8351);">R</div>
<div class="t" style="left:37.72px;top:938.68px;font-size:24px;transform:scaleX(0.8607);">O</div>
<div class="t" style="left:54.92px;top:938.68px;font-size:24px;transform:scaleX(0.8000);">E</div>
<div class="t" style="left:320.05px;top:938.68px;font-size:24px;transform:scaleX(1.0633);">24,3%</div>
<div class="t" style="left:470.55px;top:938.68px;font-size:24px;transform:scaleX(1.0633);">25,5%</div>
<div class="t" style="left:620.55px;top:938.68px;font-size:24px;transform:scaleX(1.0633);">26,3%</div>
<div class="t" style="left:22.56px;top:975.68px;font-size:24px;transform:scaleX(0.8293);">Y</div>
<div class="t" style="left:38.05px;top:975.68px;font-size:24px;transform:scaleX(1.0904);">i</div>
<div class="t" style="left:45.13px;top:975.68px;font-size:24px;transform:scaleX(0.8524);">e</div>
<div class="t" style="left:58.24px;top:975.68px;font-size:24px;transform:scaleX(1.0904);">l</div>
<div class="t" style="left:65.15px;top:975.68px;font-size:24px;transform:scaleX(0.9451);">d</div>
<div class="t" style="left:335.79px;top:975.68px;font-size:24px;transform:scaleX(1.0345);">3,0%</div>
<div class="t" style="left:486.29px;top:975.68px;font-size:24px;transform:scaleX(1.0345);">3,8%</div>
<div class="t" style="left:636.24px;top:975.68px;font-size:24px;transform:scaleX(1.0355);">4,1%</div>
<div class="t" style="left:22.52px;top:1012.68px;font-size:24px;transform:scaleX(0.8000);">E</div>
<div class="t" style="left:35.25px;top:1012.68px;font-size:24px;transform:scaleX(0.8000);">V</div>
<svg style="position:absolute;left:0;top:0;overflow:visible" width="1" height="1"><line x1="52.60" y1="1039.00" x2="61.70" y2="1019.60" stroke="#000" stroke-width="2.1"/></svg>
<div class="t" style="left:66.71px;top:1012.68px;font-size:24px;transform:scaleX(0.8546);">V</div>
<div class="t" style="left:83.12px;top:1012.68px;font-size:24px;transform:scaleX(0.9590);">e</div>
<div class="t" style="left:97.05px;top:1012.68px;font-size:24px;transform:scaleX(0.9710);">n</div>
<div class="t" style="left:111.08px;top:1012.68px;font-size:24px;transform:scaleX(0.8811);">t</div>
<div class="t" style="left:119.68px;top:1012.68px;font-size:24px;transform:scaleX(0.8030);">a</div>
<div class="t" style="left:133.57px;top:1012.68px;font-size:24px;transform:scaleX(0.9460);">s</div>
<div class="t" style="left:324.08px;top:1012.68px;font-size:24px;transform:scaleX(1.1311);">2,70x</div>
<div class="t" style="left:474.58px;top:1012.68px;font-size:24px;transform:scaleX(1.1311);">2,49x</div>
<div class="t" style="left:624.58px;top:1012.68px;font-size:24px;transform:scaleX(1.1311);">2,31x</div>
<div class="t" style="left:22.52px;top:1048.68px;font-size:24px;transform:scaleX(0.8000);">E</div>
<div class="t" style="left:35.25px;top:1048.68px;font-size:24px;transform:scaleX(0.8000);">V</div>
<svg style="position:absolute;left:0;top:0;overflow:visible" width="1" height="1"><line x1="52.60" y1="1075.00" x2="62.70" y2="1055.60" stroke="#000" stroke-width="2.1"/></svg>
<div class="t" style="left:68.02px;top:1048.68px;font-size:24px;transform:scaleX(0.8000);">E</div>
<div class="t" style="left:82.02px;top:1048.68px;font-size:24px;transform:scaleX(0.8533);">B</div>
<div class="t" style="left:96.33px;top:1048.68px;font-size:24px;transform:scaleX(1.1000);">I</div>
<div class="t" style="left:103.57px;top:1048.68px;font-size:24px;transform:scaleX(0.8032);">T</div>
<div class="t" style="left:117.09px;top:1048.68px;font-size:24px;transform:scaleX(0.8160);">D</div>
<div class="t" style="left:131.96px;top:1048.68px;font-size:24px;transform:scaleX(0.9488);">A</div>
<div class="t" style="left:308.35px;top:1048.68px;font-size:24px;transform:scaleX(1.1400);">10,16x</div>
<div class="t" style="left:474.58px;top:1048.68px;font-size:24px;transform:scaleX(1.1312);">9,61x</div>
<div class="t" style="left:624.58px;top:1048.68px;font-size:24px;transform:scaleX(1.1312);">8,86x</div>
<div class="t" style="left:22.47px;top:1087.68px;font-size:24px;transform:scaleX(0.8000);">E</div>
<div class="t" style="left:35.31px;top:1087.68px;font-size:24px;transform:scaleX(0.8166);">V</div>
<svg style="position:absolute;left:0;top:0;overflow:visible" width="1" height="1"><line x1="52.80" y1="1114.00" x2="63.30" y2="1094.60" stroke="#000" stroke-width="2.1"/></svg>
<div class="t" style="left:67.42px;top:1087.68px;font-size:24px;transform:scaleX(0.8000);">E</div>
<div class="t" style="left:81.57px;top:1087.68px;font-size:24px;transform:scaleX(0.8298);">B</div>
<div class="t" style="left:95.98px;top:1087.68px;font-size:24px;transform:scaleX(1.1000);">I</div>
<div class="t" style="left:103.55px;top:1087.68px;font-size:24px;transform:scaleX(0.8327);">T</div>
<div class="t" style="left:308.35px;top:1087.68px;font-size:24px;transform:scaleX(1.1400);">15,93x</div>
<div class="t" style="left:458.85px;top:1087.68px;font-size:24px;transform:scaleX(1.1400);">14,43x</div>
<div class="t" style="left:608.85px;top:1087.68px;font-size:24px;transform:scaleX(1.1400);">13,15x</div>
<div class="t" style="left:22.33px;top:1126.68px;font-size:24px;transform:scaleX(0.9497);">D</div>
<div class="t" style="left:40.27px;top:1126.68px;font-size:24px;transform:scaleX(0.9146);">e</div>
<div class="t" style="left:53.71px;top:1126.68px;font-size:24px;transform:scaleX(0.8926);">u</div>
<div class="t" style="left:67.39px;top:1126.68px;font-size:24px;transform:scaleX(0.8987);">d</div>
<div class="t" style="left:80.30px;top:1126.68px;font-size:24px;transform:scaleX(0.8000);">a</div>
<svg style="position:absolute;left:0;top:0;overflow:visible" width="1" height="1"><line x1="93.50" y1="1153.00" x2="104.80" y2="1133.60" stroke="#000" stroke-width="2.1"/></svg>
<div class="t" style="left:108.57px;top:1126.68px;font-size:24px;transform:scaleX(0.8000);">E</div>
<div class="t" style="left:122.92px;top:1126.68px;font-size:24px;transform:scaleX(0.8000);">B</div>
<div class="t" style="left:136.43px;top:1126.68px;font-size:24px;transform:scaleX(1.0723);">I</div>
<div class="t" style="left:144.14px;top:1126.68px;font-size:24px;transform:scaleX(0.8000);">T</div>
<div class="t" style="left:157.79px;top:1126.68px;font-size:24px;transform:scaleX(0.8000);">D</div>
<div class="t" style="left:172.46px;top:1126.68px;font-size:24px;transform:scaleX(0.9551);">A</div>
<div class="t" style="left:316.57px;top:1126.68px;font-size:24px;transform:scaleX(1.1081);">-1,16x</div>
<div class="t" style="left:467.07px;top:1126.68px;font-size:24px;transform:scaleX(1.1081);">-1,20x</div>
<div class="t" style="left:617.07px;top:1126.68px;font-size:24px;transform:scaleX(1.1081);">-1,23x</div>
<div class="t" style="left:22.23px;top:1165.07px;font-size:20px;font-style:italic;transform-origin:0 21.93px;transform:skewX(-5.0deg) scaleX(0.9650);">F</div>
<div class="t" style="left:35.52px;top:1165.07px;font-size:20px;font-style:italic;transform-origin:0 21.93px;transform:skewX(-5.0deg) scaleX(0.9613);">u</div>
<div class="t" style="left:47.46px;top:1165.07px;font-size:20px;font-style:italic;transform-origin:0 21.93px;transform:skewX(-5.0deg) scaleX(0.9787);">e</div>
<div class="t" style="left:57.20px;top:1165.07px;font-size:20px;font-style:italic;transform-origin:0 21.93px;transform:skewX(-5.0deg) scaleX(0.9613);">n</div>
<div class="t" style="left:66.99px;top:1165.07px;font-size:20px;font-style:italic;transform-origin:0 21.93px;transform:skewX(-5.0deg) scaleX(1.1419);">t</div>
<div class="t" style="left:76.16px;top:1165.07px;font-size:20px;font-style:italic;transform-origin:0 21.93px;transform:skewX(-5.0deg) scaleX(0.9787);">e</div>
<div class="t" style="left:87.17px;top:1165.07px;font-size:20px;font-style:italic;transform-origin:0 21.93px;transform:skewX(-5.0deg) scaleX(1.1000);">:</div>
<div class="t" style="left:97.43px;top:1165.07px;font-size:20px;font-style:italic;transform-origin:0 21.93px;transform:skewX(-5.0deg) scaleX(0.9206);">A</div>
<div class="t" style="left:112.99px;top:1165.07px;font-size:20px;font-style:italic;transform-origin:0 21.93px;transform:skewX(-5.0deg) scaleX(1.0017);">n</div>
<div class="t" style="left:125.02px;top:1165.07px;font-size:20px;font-style:italic;transform-origin:0 21.93px;transform:skewX(-5.0deg) scaleX(0.9910);">á</div>
<div class="t" style="left:136.60px;top:1165.07px;font-size:20px;font-style:italic;transform-origin:0 21.93px;transform:skewX(-5.0deg) scaleX(0.9500);">l</div>
<div class="t" style="left:141.90px;top:1165.07px;font-size:20px;font-style:italic;transform-origin:0 21.93px;transform:skewX(-5.0deg) scaleX(1.0065);">i</div>
<div class="t" style="left:148.47px;top:1165.07px;font-size:20px;font-style:italic;transform-origin:0 21.93px;transform:skewX(-5.0deg) scaleX(0.8000);">s</div>
<div class="t" style="left:156.60px;top:1165.07px;font-size:20px;font-style:italic;transform-origin:0 21.93px;transform:skewX(-5.0deg) scaleX(1.0065);">i</div>
<div class="t" style="left:161.98px;top:1165.07px;font-size:20px;font-style:italic;transform-origin:0 21.93px;transform:skewX(-5.0deg) scaleX(0.8280);">s</div>
<div class="t" style="left:177.03px;top:1165.07px;font-size:20px;font-style:italic;transform-origin:0 21.93px;transform:skewX(-5.0deg) scaleX(0.9634);">B</div>
<div class="t" style="left:193.14px;top:1165.07px;font-size:20px;font-style:italic;transform-origin:0 21.93px;transform:skewX(-5.0deg) scaleX(0.8520);">S</div>
</body></html>
